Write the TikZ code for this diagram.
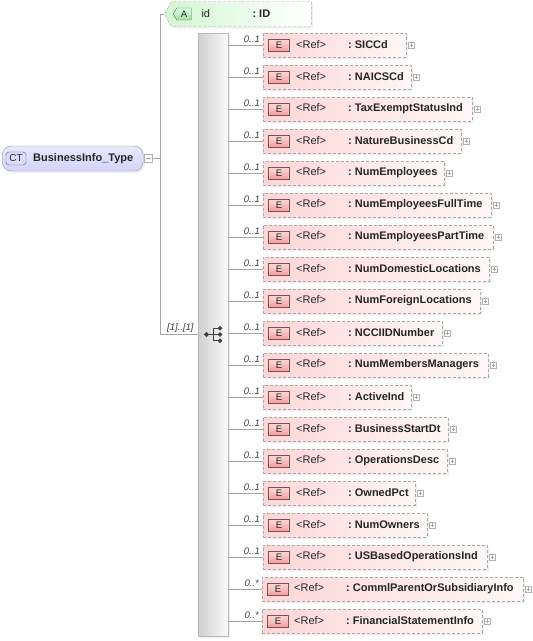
\documentclass[tikz,border=0pt]{standalone}
\usepackage{fontspec}
\setmainfont{Liberation Sans}
\usetikzlibrary{shapes.symbols,shadows,positioning}
\definecolor{xsdline}{RGB}{165,165,165}
\definecolor{elemfill}{RGB}{253,214,214}
\definecolor{elemedge}{RGB}{170,170,170}
\definecolor{ebadgefill}{RGB}{242,160,160}
\definecolor{ebadgeedge}{RGB}{130,80,80}
\definecolor{attrfill}{RGB}{210,246,210}
\definecolor{abadgefill}{RGB}{165,222,165}
\definecolor{abadgeedge}{RGB}{80,115,80}
\definecolor{ctfill}{RGB}{212,212,250}
\definecolor{ctedge}{RGB}{150,150,165}
\definecolor{ctbadgeedge}{RGB}{90,90,140}
\definecolor{seqfill}{RGB}{208,208,208}
\newcommand{\xsdref}[3][29pt]{\makebox[#2][l]{\hspace*{#1}\makebox[52pt][l]{<Ref>}\textbf{:~#3}}}

\begin{document}
\begin{tikzpicture}[x=1pt, y=-1pt,
    every node/.style={font=\fontsize{11}{13}\selectfont, text=black!85},
    conn/.style={draw=xsdline, line width=0.8pt},
    shade/.style={drop shadow={opacity=0.12, shadow xshift=2pt, shadow yshift=-2pt}},
    elem/.style={draw=elemedge, dash pattern=on 3pt off 2pt, left color=elemfill, right color=elemfill!20,
        minimum height=24pt, inner xsep=4pt, inner ysep=0pt, anchor=west, shade,
        append after command={node[ebadge] (#1-e) at ([xshift=16pt]#1.west) {E}
                              node[plusbox] (#1-x) at ([xshift=5pt]#1.east) {}}},
    opt/.style={label={[mult]west:0..1}},
    many/.style={label={[mult]west:0..*}},
    mult/.style={anchor=south east, xshift=-2pt, yshift=1pt, inner sep=1pt,
        font=\fontsize{9.5}{11}\selectfont\itshape, text=black!75},
    ebadge/.style={draw=ebadgeedge, solid, top color=red!15, bottom color=ebadgefill,
        minimum width=21pt, minimum height=12pt, inner sep=0pt, font=\fontsize{9.5}{10}\selectfont},
    plusbox/.style={draw=gray!60, solid, fill=white, minimum size=6.5pt, inner sep=0pt,
        path picture={\draw[gray!70, line width=0.5pt]
            ([xshift=1.5pt]path picture bounding box.west) -- ([xshift=-1.5pt]path picture bounding box.east)
            ([yshift=-1.5pt]path picture bounding box.north) -- ([yshift=1.5pt]path picture bounding box.south);}},
    minusbox/.style={draw=gray!60, fill=white, minimum size=8pt, inner sep=0pt,
        path picture={\draw[gray!70, line width=0.5pt]
            ([xshift=1.5pt]path picture bounding box.west) -- ([xshift=-1.5pt]path picture bounding box.east);}},
    ctnode/.style={draw=ctedge, top color=ctfill!55, bottom color=ctfill, rounded corners=9pt,
        minimum height=25pt, inner xsep=4pt, inner ysep=0pt, anchor=west, shade},
    ctbadge/.style={draw=ctbadgeedge, fill=ctfill!80, rounded corners=3pt, minimum width=20pt,
        minimum height=13pt, inner sep=0pt, font=\fontsize{10}{11}\selectfont},
    attr/.style={shape=signal, signal to=west, signal pointer angle=120, draw=elemedge,
        dash pattern=on 3pt off 2pt, left color=attrfill, right color=white,
        minimum width=147pt, minimum height=25pt, inner sep=0pt, shade},
    abadge/.style={shape=signal, signal to=west, signal pointer angle=120, draw=abadgeedge, solid,
        top color=green!12, bottom color=abadgefill, minimum width=18pt, minimum height=12pt,
        inner sep=0pt, font=\fontsize{9.5}{10}\selectfont},
    seqbar/.style={draw=gray!55, left color=seqfill, right color=gray!4,
        minimum width=30pt, minimum height=603pt, inner sep=0pt, shade},
    seqglyph/.style={draw=black!75, fill=black!75, line width=0.9pt}
]
    \useasboundingbox (0,0) rectangle (533,641);

    % complex type and its attribute
    \node[ctnode] (ct) at (2,158.5) {\makebox[133pt][l]{\hspace*{27pt}\textbf{BusinessInfo\_Type}}};
    \node[ctbadge] (ct-b) at ([xshift=14pt]ct.west) {CT};
    \node[minusbox] (ct-m) at ([xshift=5pt]ct.east) {};
    \node[attr] (attr) at (241.5,14) {\makebox[80pt][l]{\makebox[51pt][l]{id}\textbf{:~ID}}};
    \node[abadge] (attr-b) at (184,14) {A};

    % sequence compositor
    \node[seqbar] (seq) at (213,334.5) {};
    \coordinate (seqicon) at (seq.center);
    \draw[seqglyph] ([xshift=-6.5pt]seqicon) -- (seqicon)
        ([yshift=6.3pt]seqicon) -- ([yshift=-6.3pt]seqicon)
        ([yshift=6.3pt]seqicon) -- ([xshift=7pt,yshift=6.3pt]seqicon)
        (seqicon) -- ([xshift=7pt]seqicon)
        ([yshift=-6.3pt]seqicon) -- ([xshift=7pt,yshift=-6.3pt]seqicon);
    \fill[seqglyph] ([xshift=-6.5pt]seqicon) circle (1.9pt)
        ([xshift=7pt,yshift=6.3pt]seqicon) circle (1.8pt)
        ([xshift=7pt]seqicon) circle (1.8pt)
        ([xshift=7pt,yshift=-6.3pt]seqicon) circle (1.8pt);

    \coordinate (fork) at (160,158.5);
    \draw[conn] (ct-m) -- (fork);
    \draw[conn] (fork) |- (attr);
    \draw[conn] (fork) |- (seq);
    \node[mult] (seqmult) at ([xshift=-1pt]seq.west) {[1]..[1]};

    % referenced elements
    \node[opt, elem=siccd] (siccd) at (263,45) {\xsdref{135pt}{SICCd}};
    \draw[conn] (seq.east |- siccd) -- (siccd);
    \node[opt, elem=naicscd] (naicscd) at (263,77) {\xsdref{140pt}{NAICSCd}};
    \draw[conn] (seq.east |- naicscd) -- (naicscd);
    \node[opt, elem=taxexempt] (taxexempt) at (263,109) {\xsdref{201pt}{TaxExemptStatusInd}};
    \draw[conn] (seq.east |- taxexempt) -- (taxexempt);
    \node[opt, elem=naturebus] (naturebus) at (263,141) {\xsdref{190pt}{NatureBusinessCd}};
    \draw[conn] (seq.east |- naturebus) -- (naturebus);
    \node[opt, elem=numemp] (numemp) at (263,173) {\xsdref{173pt}{NumEmployees}};
    \draw[conn] (seq.east |- numemp) -- (numemp);
    \node[opt, elem=numempft] (numempft) at (263,205) {\xsdref{220pt}{NumEmployeesFullTime}};
    \draw[conn] (seq.east |- numempft) -- (numempft);
    \node[opt, elem=numemppt] (numemppt) at (263,237) {\xsdref{222pt}{NumEmployeesPartTime}};
    \draw[conn] (seq.east |- numemppt) -- (numemppt);
    \node[opt, elem=numdom] (numdom) at (263,269) {\xsdref{218pt}{NumDomesticLocations}};
    \draw[conn] (seq.east |- numdom) -- (numdom);
    \node[opt, elem=numforeign] (numforeign) at (263,301) {\xsdref{209pt}{NumForeignLocations}};
    \draw[conn] (seq.east |- numforeign) -- (numforeign);
    \node[opt, elem=nccii] (nccii) at (263,333) {\xsdref{171pt}{NCCIIDNumber}};
    \draw[conn] (seq.east |- nccii) -- (nccii);
    \node[opt, elem=nummembers] (nummembers) at (263,365) {\xsdref{217pt}{NumMembersManagers}};
    \draw[conn] (seq.east |- nummembers) -- (nummembers);
    \node[opt, elem=activeind] (activeind) at (263,397) {\xsdref{140pt}{ActiveInd}};
    \draw[conn] (seq.east |- activeind) -- (activeind);
    \node[opt, elem=busstart] (busstart) at (263,429) {\xsdref{177pt}{BusinessStartDt}};
    \draw[conn] (seq.east |- busstart) -- (busstart);
    \node[opt, elem=opsdesc] (opsdesc) at (263,461) {\xsdref{176pt}{OperationsDesc}};
    \draw[conn] (seq.east |- opsdesc) -- (opsdesc);
    \node[opt, elem=ownedpct] (ownedpct) at (263,493) {\xsdref{144pt}{OwnedPct}};
    \draw[conn] (seq.east |- ownedpct) -- (ownedpct);
    \node[opt, elem=numowners] (numowners) at (263,525) {\xsdref{156pt}{NumOwners}};
    \draw[conn] (seq.east |- numowners) -- (numowners);
    \node[opt, elem=usbased] (usbased) at (263,557) {\xsdref{216pt}{USBasedOperationsInd}};
    \draw[conn] (seq.east |- usbased) -- (usbased);
    \node[many, elem=commlparent] (commlparent) at (262,589) {\xsdref[28pt]{253pt}{CommlParentOrSubsidiaryInfo}};
    \draw[conn] (seq.east |- commlparent) -- (commlparent);
    \node[many, elem=finstmt] (finstmt) at (262,621) {\xsdref[28pt]{212pt}{FinancialStatementInfo}};
    \draw[conn] (seq.east |- finstmt) -- (finstmt);
\end{tikzpicture}
\end{document}
